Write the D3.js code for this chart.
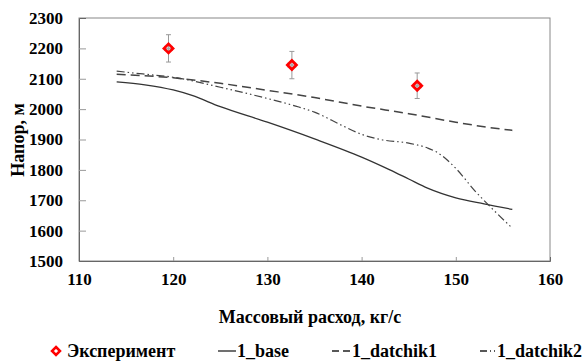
<!DOCTYPE html>
<html><head><meta charset="utf-8">
<script src="https://cdn.jsdelivr.net/npm/d3@7/dist/d3.min.js"></script>
<style>body{margin:0;background:#fff}svg{display:block}</style>
</head><body><svg id="c" width="585" height="361"></svg>
<script>
const xTicks = [110,120,130,140,150,160];
const yTicks = [1500,1600,1700,1800,1900,2000,2100,2200,2300];
const expX = [119.5,132.6,145.9];
const expY = [2200,2145,2077];
const expErrY = [45,45,42];
const expErrX = [0.4,0.4,0.4];
const baseX = [114,117,120,122,125,130,135,140,143,145,147,150,153,156];
const baseY = [2090,2080,2063,2045,2008,1957,1902,1842,1800,1770,1740,1708,1688,1670];
const d1X = [114,120,125,130,135,140,145,150,153,156];
const d1Y = [2115,2103,2085,2062,2038,2010,1985,1957,1942,1930];
const d2X = [114,117,120,125,130,133,135,138,140,142,145,147,148,150,152,154,156];
const d2Y = [2125,2115,2105,2072,2035,2010,1990,1945,1917,1900,1888,1872,1858,1805,1732,1668,1608];

const FF = '"Liberation Serif"';
function st(sel,size){return sel.style("font-family",FF).style("font-weight","bold").style("font-size",size+"px");}

const svg = d3.select("#c");
const m = {l:79,t:18,r:550,b:261};
const x = d3.scaleLinear().domain([110,160]).range([m.l,m.r]);
const y = d3.scaleLinear().domain([1500,2300]).range([m.b,m.t]);

svg.append("rect").attr("x",m.l).attr("y",m.t).attr("width",m.r-m.l).attr("height",m.b-m.t)
  .attr("fill","none").attr("stroke","#888").attr("stroke-width",1);

const gx = svg.append("g").attr("transform",`translate(0,${m.b})`)
  .call(d3.axisBottom(x).tickValues(xTicks).tickSize(-4).tickPadding(12).tickFormat(d3.format("d")));
const gy = svg.append("g").attr("transform",`translate(${m.l},0)`)
  .call(d3.axisLeft(y).tickValues(yTicks).tickSize(-7).tickPadding(16).tickFormat(d3.format("d")));
[gx,gy].forEach(g=>{
  g.attr("font-family",null).attr("font-size",null);
  g.select(".domain").attr("stroke","#666");
  g.selectAll(".tick line").attr("stroke","#999");
  st(g.selectAll(".tick text"),17).attr("fill","#000");
});
gx.selectAll(".tick").filter(d=>d===110||d===160).select("line").remove();
gy.selectAll(".tick").filter(d=>d===1500||d===2300).select("line").remove();

function mk(xs,ys){return xs.map((v,i)=>[v,ys[i]]);}
const line = d3.line().x(d=>x(d[0])).y(d=>y(d[1])).curve(d3.curveMonotoneX);
svg.append("path").attr("d",line(mk(baseX,baseY))).attr("fill","none").attr("stroke","#333").attr("stroke-width",1.3);
svg.append("path").attr("d",line(mk(d1X,d1Y))).attr("fill","none").attr("stroke","#444").attr("stroke-width",1.5).attr("stroke-dasharray","9,5");
svg.append("path").attr("d",line(mk(d2X,d2Y))).attr("fill","none").attr("stroke","#444").attr("stroke-width",1.2).attr("stroke-dasharray","8,3,1.5,3,1.5,3");

const eg = svg.append("g");
expX.forEach((v,i)=>{
  const cx=x(v), cy=y(expY[i]);
  const y1=y(expY[i]+expErrY[i]), y2=y(expY[i]-expErrY[i]);
  const x1=x(v-expErrX[i]), x2=x(v+expErrX[i]);
  const g=eg.append("g").attr("stroke","#999").attr("stroke-width",1);
  g.append("line").attr("x1",cx).attr("x2",cx).attr("y1",y1).attr("y2",y2);
  g.append("line").attr("x1",cx-2.5).attr("x2",cx+2.5).attr("y1",y1).attr("y2",y1);
  g.append("line").attr("x1",cx-2.5).attr("x2",cx+2.5).attr("y1",y2).attr("y2",y2);
  g.append("line").attr("x1",x1).attr("x2",x2).attr("y1",cy).attr("y2",cy);
  g.append("line").attr("x1",x1).attr("x2",x1).attr("y1",cy-2.5).attr("y2",cy+2.5);
  g.append("line").attr("x1",x2).attr("x2",x2).attr("y1",cy-2.5).attr("y2",cy+2.5);
  eg.append("path").attr("d",`M${cx},${cy-4.5}L${cx+4.5},${cy}L${cx},${cy+4.5}L${cx-4.5},${cy}Z`)
    .attr("fill","none").attr("stroke","#f00").attr("stroke-width",2.8);
  eg.append("circle").attr("cx",cx).attr("cy",cy).attr("r",1.5).attr("fill","#aaa");
});

st(svg.append("text").attr("x",310).attr("y",323).attr("text-anchor","middle"),18).text("Массовый расход, кг/с");
st(svg.append("text").attr("transform","translate(24,140) rotate(-90)").attr("text-anchor","middle"),18).text("Напор, м");

const ly=351, ty=357;
const lg=svg.append("g");
lg.append("path").attr("d",`M56,${ly-4}L60,${ly}L56,${ly+4}L52,${ly}Z`).attr("fill","none").attr("stroke","#f00").attr("stroke-width",2.5);
st(lg.append("text").attr("x",67).attr("y",ty),18).text("Эксперимент");
lg.append("line").attr("x1",218).attr("x2",236).attr("y1",ly).attr("y2",ly).attr("stroke","#222").attr("stroke-width",1.3);
st(lg.append("text").attr("x",237).attr("y",ty),18).text("1_base");
lg.append("line").attr("x1",332).attr("x2",351).attr("y1",ly).attr("y2",ly).attr("stroke","#222").attr("stroke-width",1.3).attr("stroke-dasharray","7,4");
st(lg.append("text").attr("x",352).attr("y",ty),18).text("1_datchik1");
lg.append("line").attr("x1",480).attr("x2",496).attr("y1",ly).attr("y2",ly).attr("stroke","#222").attr("stroke-width",1.3).attr("stroke-dasharray","7,3,1,3,1,3");
st(lg.append("text").attr("x",497).attr("y",ty),18).text("1_datchik2");
</script></body></html>
